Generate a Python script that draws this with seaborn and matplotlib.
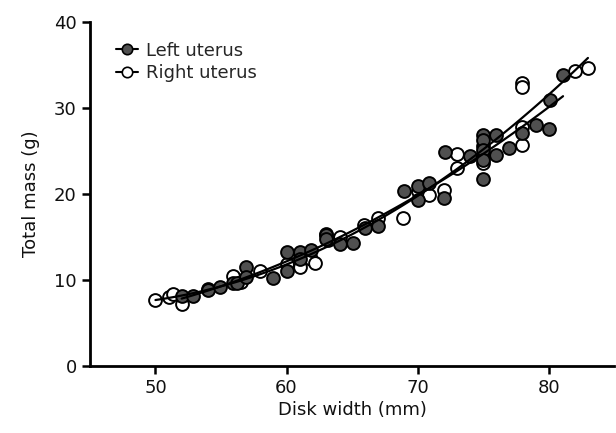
import matplotlib
matplotlib.use("Agg")
import matplotlib.pyplot as plt
from matplotlib.lines import Line2D
import seaborn as sns
import pandas as pd

# Left uterus (filled)
left_width = [52.0, 52.9, 54.0, 54.9, 55.9, 56.2, 56.9, 56.9, 59.0, 60.0, 60.0, 61.0,
              61.0, 61.9, 63.0, 63.0, 64.1, 65.1, 66.0, 67.0, 69.0, 70.0, 70.0, 70.9,
              72.0, 72.1, 74.0, 75.0, 75.0, 75.0, 75.0, 75.0, 76.0, 76.0, 77.0, 78.0,
              79.0, 80.0, 80.1, 81.1]
left_mass = [8.1, 8.1, 8.8, 9.2, 9.6, 9.6, 11.5, 10.3, 10.2, 13.3, 11.0, 13.3,
             12.4, 13.5, 15.2, 14.8, 14.2, 14.3, 16.0, 16.3, 20.3, 20.9, 19.3, 21.3,
             19.5, 24.9, 24.4, 26.9, 26.3, 25.1, 24.0, 21.8, 26.9, 24.5, 25.3, 27.1,
             28.0, 27.6, 30.9, 33.9]

# Right uterus (open)
right_width = [50.0, 51.0, 51.3, 52.0, 54.0, 55.9, 56.5, 58.0, 60.0, 61.0, 61.9, 62.2,
               63.0, 63.2, 64.1, 65.9, 67.0, 68.9, 70.0, 70.9, 72.0, 73.0, 73.0, 75.0,
               75.0, 75.0, 78.0, 78.0, 78.0, 78.0, 82.0, 83.0]
right_mass = [7.7, 8.0, 8.4, 7.2, 9.0, 10.4, 9.8, 11.0, 11.8, 11.5, 12.4, 12.0,
              15.4, 14.6, 15.0, 16.4, 17.2, 17.2, 20.3, 19.9, 20.5, 24.6, 23.0, 25.6,
              24.3, 23.6, 32.9, 32.5, 27.8, 25.7, 34.3, 34.7]

x_ticks = [50, 60, 70, 80]
y_ticks = [0, 10, 20, 30, 40]
series_labels = ["Left uterus", "Right uterus"]

sns.set_style("ticks")
plt.rcParams["font.family"] = ["DejaVu Sans"]

left_df = pd.DataFrame({"width": left_width, "mass": left_mass})
right_df = pd.DataFrame({"width": right_width, "mass": right_mass})

fig = plt.figure(figsize=(6.16, 4.33), dpi=100)
ax = fig.add_axes([0.146, 0.155, 0.851, 0.794])

fill_gray = "#505050"
sns.regplot(data=left_df, x="width", y="mass", order=2, ci=None, scatter=False,
            line_kws=dict(color="black", lw=1.6, zorder=3), ax=ax)
sns.regplot(data=right_df, x="width", y="mass", order=2, ci=None, scatter=False,
            line_kws=dict(color="black", lw=1.6, zorder=3), ax=ax)
sns.scatterplot(data=right_df, x="width", y="mass", s=85, facecolor="white",
                edgecolor="black", linewidth=1.4, ax=ax, zorder=2)
sns.scatterplot(data=left_df, x="width", y="mass", s=85, facecolor=fill_gray,
                edgecolor="black", linewidth=1.4, ax=ax, zorder=2)

ax.set_xlim(45, 85)
ax.set_ylim(0, 40)
ax.set_xticks(x_ticks)
ax.set_yticks(y_ticks)
ax.set_xlabel("Disk width (mm)", fontsize=13, labelpad=3, color="#111111")
ax.set_ylabel("Total mass (g)", fontsize=13, labelpad=10, color="#111111")
ax.tick_params(axis="both", labelsize=13, width=1.8, length=6, direction="out",
               color="black", labelcolor="#111111")
for side in ["top", "right"]:
    ax.spines[side].set_visible(False)
for side in ["left", "bottom"]:
    ax.spines[side].set_linewidth(2)
    ax.spines[side].set_color("black")

handles = [
    Line2D([0], [0], color="black", lw=1.5, marker="o", markersize=7.5,
           markerfacecolor=fill_gray, markeredgecolor="black", markeredgewidth=1.2),
    Line2D([0], [0], color="black", lw=1.5, marker="o", markersize=7.5,
           markerfacecolor="white", markeredgecolor="black", markeredgewidth=1.2),
]
ax.legend(handles, series_labels, loc="upper left", bbox_to_anchor=(0.03, 0.975),
          frameon=False, fontsize=13, handlelength=1.2, handletextpad=0.45,
          labelspacing=0.25, borderaxespad=0.2)

fig.savefig("out.png", dpi=100)
